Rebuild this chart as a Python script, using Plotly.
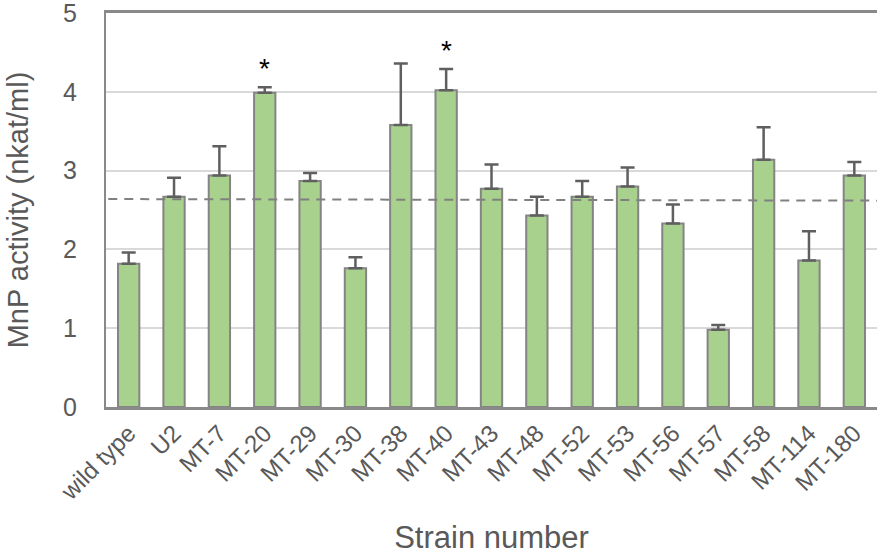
import plotly.graph_objects as go

strains = ["wild type", "U2", "MT-7", "MT-20", "MT-29", "MT-30", "MT-38", "MT-40",
           "MT-43", "MT-48", "MT-52", "MT-53", "MT-56", "MT-57", "MT-58", "MT-114", "MT-180"]
activity = [1.82, 2.67, 2.94, 3.99, 2.87, 1.76, 3.58, 4.02,
            2.77, 2.43, 2.67, 2.80, 2.33, 0.98, 3.14, 1.86, 2.94]
error_up = [0.14, 0.24, 0.37, 0.07, 0.10, 0.14, 0.78, 0.27,
            0.31, 0.24, 0.20, 0.24, 0.24, 0.06, 0.41, 0.37, 0.17]
significant = ["MT-20", "MT-40"]
reference_line = [2.64, 2.62]
y_ticks = [0, 1, 2, 3, 4, 5]

FONT = "Liberation Sans, Arial, sans-serif"
TXT = "#595959"

fig = go.Figure()
fig.add_trace(go.Bar(
    x=list(range(len(strains))), y=activity,
    marker=dict(color="#a9d18e", line=dict(color="#848484", width=2)),
    error_y=dict(type="data", symmetric=False, array=error_up,
                 arrayminus=[0] * len(strains),
                 color="#5f5f5f", thickness=2.5, width=7),
    showlegend=False,
))
fig.add_trace(go.Scatter(
    x=[-0.45, len(strains) - 0.5], y=reference_line, mode="lines",
    line=dict(color="#808080", width=2, dash="9px,7px"),
    showlegend=False, hoverinfo="skip",
))

for s in significant:
    i = strains.index(s)
    fig.add_annotation(x=i, y=activity[i] + error_up[i], text="*",
                       showarrow=False, yanchor="bottom", yshift=1,
                       font=dict(size=28, color="black", family=FONT))

fig.update_layout(
    width=877, height=560,
    margin=dict(l=106, r=0, t=13, b=153),
    paper_bgcolor="white", plot_bgcolor="white",
    bargap=0.53,
    font=dict(family=FONT, color=TXT),
    xaxis=dict(
        tickmode="array", tickvals=list(range(len(strains))), ticktext=strains,
        range=[-0.5, len(strains) - 0.5], tickangle=-45,
        tickfont=dict(size=24, color=TXT, family=FONT),
        showline=True, linecolor="#898989", linewidth=2.5, mirror=True,
        showgrid=False, ticks="", zeroline=False,
        title=dict(text="Strain number", font=dict(size=31, color=TXT, family=FONT),
                   standoff=22),
    ),
    yaxis=dict(
        range=[0, 5.002], tickvals=y_ticks,
        tickfont=dict(size=25, color=TXT, family=FONT),
        ticklabeloverflow="allow",
        showline=True, linecolor="#898989", linewidth=2,
        showgrid=True, gridcolor="#d9d9d9", gridwidth=2,
        ticks="", ticklabelstandoff=22, zeroline=False,
        title=dict(text="MnP activity (nkat/ml)", font=dict(size=29, color=TXT, family=FONT),
                   standoff=26),
    ),
)

fig.write_html("out.html")
